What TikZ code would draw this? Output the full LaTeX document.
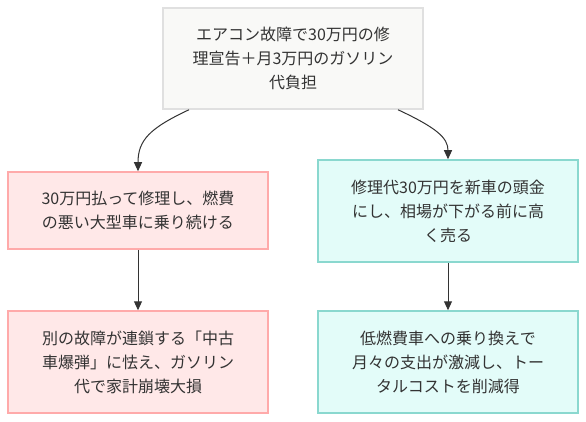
\documentclass[tikz,border=0pt]{standalone}
\usepackage{fontspec}
\setmainfont{Noto Sans CJK JP}
\usetikzlibrary{arrows.meta}
\definecolor{txt}{HTML}{333333}
\definecolor{topfill}{HTML}{F9F9F7}
\definecolor{topdraw}{HTML}{E0E0E0}
\definecolor{pinkfill}{HTML}{FFE8E8}
\definecolor{pinkdraw}{HTML}{FFAAAA}
\definecolor{tealfill}{HTML}{E3FCF9}
\definecolor{tealdraw}{HTML}{8AD8CF}
\tikzset{
  box/.style={rectangle, line width=1.5pt, minimum width=260pt, inner sep=0pt,
    align=center, text=txt, font=\fontsize{16}{24}\selectfont},
  neutral/.style={box, fill=topfill, draw=topdraw},
  bad/.style={box, fill=pinkfill, draw=pinkdraw},
  good/.style={box, fill=tealfill, draw=tealdraw},
  arr/.style={draw=txt, line width=1pt, -{Triangle[length=9pt,width=8pt]}}
}
\begin{document}
\begin{tikzpicture}[x=1pt,y=-1pt]
\useasboundingbox (0,0) rectangle (586,422);
\fill[white] (0,0) rectangle (586,422);
\node[neutral, minimum height=101pt] (top) at (293,58.5)
  {エアコン故障で30万円の修\\理宣告＋月3万円のガソリン\\代負担};
\node[bad, minimum height=77pt] (l1) at (138,210.5)
  {30万円払って修理し、燃費\\の悪い大型車に乗り続ける};
\node[good, minimum height=102pt] (r1) at (448,211)
  {修理代30万円を新車の頭金\\にし、相場が下がる前に高\\く売る};
\node[bad, minimum height=102pt] (l2) at (138,362)
  {別の故障が連鎖する「中古\\車爆弾」に怯え、ガソリン\\代で家計崩壊大損};
\node[good, minimum height=102pt] (r2) at (448,362)
  {低燃費車への乗り換えで\\月々の支出が激減し、トー\\タルコストを削減得};
\draw[arr] ([xshift=-104pt]top.south) .. controls (150,128) and (138,140) .. (l1.north);
\draw[arr] ([xshift=105pt]top.south) .. controls (437,128) and (448,138) .. (r1.north);
\draw[arr] (l1.south) -- (l2.north);
\draw[arr] (r1.south) -- (r2.north);
\end{tikzpicture}
\end{document}
